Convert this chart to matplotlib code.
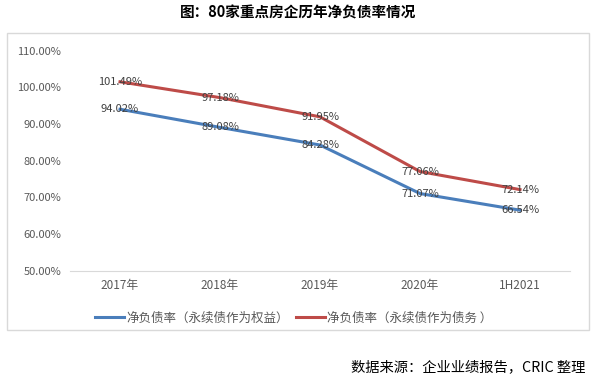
import matplotlib.pyplot as plt
from matplotlib.patches import Rectangle

plt.rcParams['font.family'] = ['Noto Sans CJK SC', 'DejaVu Sans']

categories = ['2017年', '2018年', '2019年', '2020年', '1H2021']
equity = [94.02, 89.08, 84.28, 71.07, 66.54]
debt = [101.49, 97.18, 91.95, 77.06, 72.14]
series_names = ['净负债率（永续债作为权益）', '净负债率（永续债作为债务 ）']
yticks = [50, 60, 70, 80, 90, 100, 110]

fig = plt.figure(figsize=(6, 3.8), dpi=100)
# outer chart frame
fig.patches.append(Rectangle((0.012, 0.132), 0.970, 0.782, transform=fig.transFigure,
                             fill=False, edgecolor='#d9d9d9', linewidth=1))

ax = fig.add_axes([0.1167, 0.287, 0.8333, 0.580])
x = list(range(len(categories)))
ax.plot(x, equity, color='#4a7ebb', linewidth=2.2, label=series_names[0])
ax.plot(x, debt, color='#be4b48', linewidth=2.2, label=series_names[1])

for ys in [equity, debt]:
    for xi, yi in zip(x, ys):
        ax.text(xi, yi, f'{yi:.2f}%', ha='center', va='center',
                fontsize=8, color='#404040')

ax.set_xlim(-0.5, len(categories) - 0.5)
ax.set_ylim(50, 110)
ax.set_yticks(yticks)
ax.set_yticklabels([f'{v:.2f}%' for v in yticks], color='#595959', fontsize=8)
ax.set_xticks(x)
ax.set_xticklabels(categories, color='#595959', fontsize=8.5)
ax.tick_params(axis='x', length=0, pad=6)
ax.tick_params(axis='y', length=0, pad=6.5)
for s in ['top', 'right', 'left']:
    ax.spines[s].set_visible(False)
ax.spines['bottom'].set_color('#d9d9d9')

fig.legend(loc='center', bbox_to_anchor=(0.49, 0.163), bbox_transform=fig.transFigure,
           ncol=2, frameon=False, fontsize=9, handlelength=2.3, columnspacing=0.55,
           handletextpad=0.2, labelcolor='#595959')

fig.text(0.497, 0.966, '图：80家重点房企历年净负债率情况', ha='center', va='center',
         fontsize=10.5, fontweight='bold')
fig.text(0.975, 0.034, '数据来源：企业业绩报告，CRIC 整理', ha='right', va='center',
         fontsize=10.3)

fig.savefig('out.png', dpi=100)
